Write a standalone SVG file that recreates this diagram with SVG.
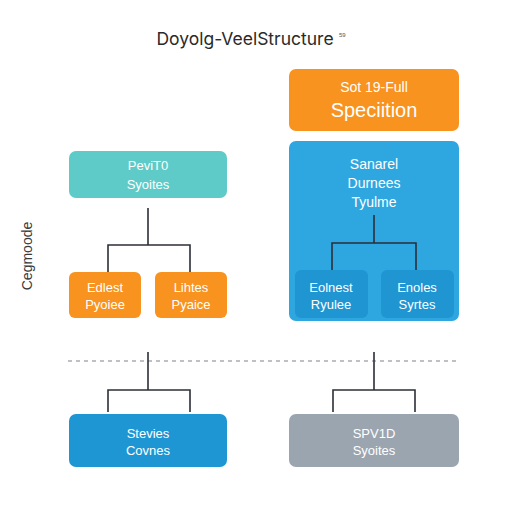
<svg xmlns="http://www.w3.org/2000/svg" width="512" height="512" viewBox="0 0 512 512">
<style>
.t{font-family:"Liberation Sans","DejaVu Sans",sans-serif;fill:#fff;text-anchor:middle}
.s{font-size:13px}
.ln{stroke:#2b2f36;stroke-width:1.6;fill:none}
</style>
<rect width="512" height="512" fill="#fff"/>
<text x="245" y="45" font-family="Inter,'Liberation Sans',sans-serif" font-size="17.5" fill="#2a2a2a" text-anchor="middle">Doyolg-VeelStructure</text>
<text x="339" y="37" font-family="'Liberation Sans',sans-serif" font-size="6" fill="#555">59</text>
<text transform="translate(32,256) rotate(-90)" font-family="'Liberation Sans',sans-serif" font-size="14" fill="#3a3a3a" text-anchor="middle">Cegmoode</text>
<g id="spec">
<rect x="289" y="69" width="170" height="62" rx="7" fill="#F7931E"/>
<text class="t" x="374" y="92" font-size="14">Sot 19-Full</text>
<text class="t" x="374" y="117" font-size="20">Speciition</text>
</g>
<g id="teal">
<rect x="69" y="151" width="158" height="47" rx="7" fill="#5ECBC8"/>
<text class="t s" x="148" y="170">PeviT0</text>
<text class="t s" x="148" y="189">Syoites</text>
</g>
<g id="edlest">
<rect x="69" y="272" width="72" height="46" rx="6" fill="#F7931E"/>
<text class="t s" x="105" y="292">Edlest</text>
<text class="t s" x="105" y="309">Pyoiee</text>
</g>
<g id="lihtes">
<rect x="155" y="272" width="72" height="46" rx="6" fill="#F7931E"/>
<text class="t s" x="191" y="292">Lihtes</text>
<text class="t s" x="191" y="309">Pyaice</text>
</g>
<g id="sanarel">
<rect x="289" y="141" width="170" height="180" rx="7" fill="#2EA7E0"/>
<text class="t" x="374" y="169" font-size="14">Sanarel</text>
<text class="t" x="374" y="188" font-size="14">Durnees</text>
<text class="t" x="374" y="207" font-size="14">Tyulme</text>
</g>
<g id="eolnest">
<rect x="295" y="270" width="73" height="48" rx="6" fill="#1F95D2"/>
<text class="t s" x="331" y="292">Eolnest</text>
<text class="t s" x="331" y="309">Ryulee</text>
</g>
<g id="enoles">
<rect x="381" y="270" width="73" height="48" rx="6" fill="#1F95D2"/>
<text class="t s" x="417" y="292">Enoles</text>
<text class="t s" x="417" y="309">Syrtes</text>
</g>
<g id="stevies">
<rect x="69" y="414" width="158" height="53" rx="7" fill="#1E96D4"/>
<text class="t s" x="148" y="438">Stevies</text>
<text class="t s" x="148" y="455">Covnes</text>
</g>
<g id="spv">
<rect x="289" y="414" width="170" height="53" rx="7" fill="#9BA5B0"/>
<text class="t s" x="374" y="438">SPV1D</text>
<text class="t s" x="374" y="455">Syoites</text>
</g>
<g id="connectors">
<path class="ln" d="M148 208V245M108 272V245H190V272"/>
<path class="ln" d="M374 215V243M332 270V243H416V270"/>
<line x1="68" y1="361" x2="460" y2="361" stroke="#a8adb3" stroke-width="1.5" stroke-dasharray="4 4"/>
<path class="ln" d="M148 352V390M108 412V390H190V412"/>
<path class="ln" d="M374 352V390M333 412V390H415V412"/>
</g>
</svg>
